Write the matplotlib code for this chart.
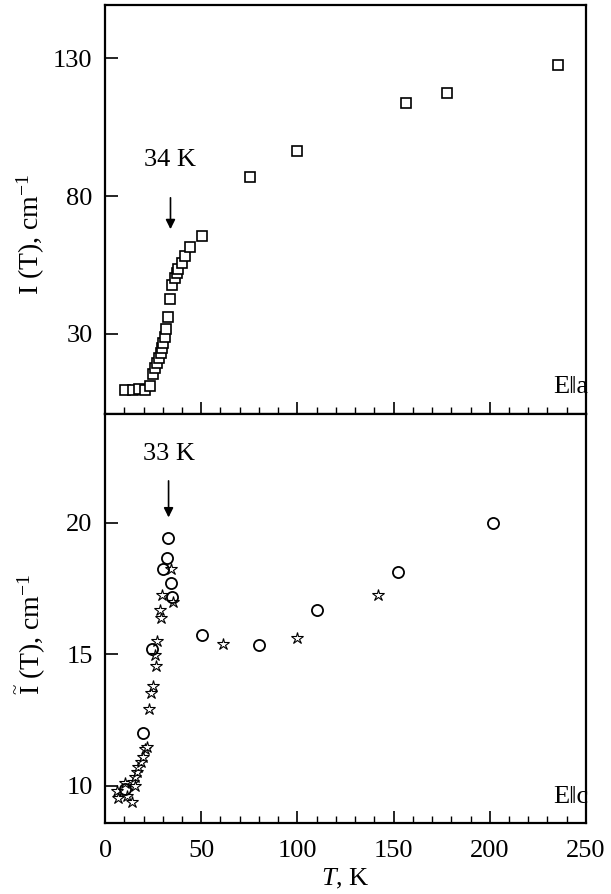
import matplotlib
matplotlib.use('Agg')
import matplotlib.pyplot as plt
from matplotlib.ticker import MultipleLocator

plt.rcParams['font.family'] = ['Liberation Serif', 'DejaVu Serif']
plt.rcParams['mathtext.fontset'] = 'custom'
plt.rcParams['mathtext.rm'] = 'Liberation Serif'
plt.rcParams['mathtext.it'] = 'Liberation Serif:italic'

# upper panel, E||a (squares)
T_a = [10.4, 14.7, 17.8, 20.8, 23.4, 24.8, 26.0, 27.2, 28.2, 29.0, 29.6, 30.3,
       31.3, 31.7, 32.9, 33.8, 34.7, 36.4, 37.3, 38.1, 39.9, 41.6, 44.2, 50.3,
       75.4, 99.8, 156.4, 177.8, 235.4]
I_a = [9.5, 9.7, 10.0, 9.7, 11.2, 15.5, 17.6, 19.4, 21.2, 23.0, 25.0, 26.8,
       29.0, 31.8, 36.3, 42.7, 47.8, 50.2, 52.0, 53.4, 55.6, 58.3, 61.6, 65.5,
       86.9, 96.3, 113.7, 117.4, 127.5]

# lower panel, E||c (circles and stars)
T_c1 = [10.4, 19.9, 24.6, 30.0, 32.1, 32.9, 34.1, 34.7, 50.3, 80.0, 110.2, 152.1, 201.7]
I_c1 = [9.87, 12.00, 15.20, 18.24, 18.68, 19.42, 17.73, 17.20, 15.74, 15.36, 16.68, 18.15, 20.0]

T_c2 = [6.1, 6.9, 10.4, 11.3, 13.9, 14.7, 15.6, 15.6, 16.5, 17.3, 18.6, 19.6,
        20.8, 21.7, 22.9, 23.9, 25.1, 26.4, 26.0, 27.2, 29.1, 28.6, 29.5, 35.2,
        34.3, 61.2, 99.6, 141.7]
I_c2 = [9.81, 9.53, 10.10, 9.62, 9.37, 10.16, 10.0, 10.35, 10.54, 10.73, 10.92, 11.11,
        11.40, 11.47, 12.92, 13.55, 13.81, 14.57, 14.98, 15.51, 16.38, 16.69, 17.26, 17.01,
        18.24, 15.39, 15.62, 17.26]

fs = 19
fig = plt.figure(figsize=(6.11, 8.94), dpi=100)
ax1 = fig.add_axes([0.172, 0.537, 0.787, 0.457])
ax2 = fig.add_axes([0.172, 0.0794, 0.787, 0.4576])

ax1.plot(T_a, I_a, 's', ms=7, mfc='white', mec='black', mew=1.2, ls='none')
ax2.plot(T_c2, I_c2, '*', ms=9, mfc='white', mec='black', mew=0.8, ls='none')
ax2.plot(T_c1, I_c1, 'o', ms=8, mfc='none', mec='black', mew=1.3, ls='none')

for ax in (ax1, ax2):
    ax.set_xlim(0, 250)
    ax.xaxis.set_major_locator(MultipleLocator(50))
    ax.xaxis.set_minor_locator(MultipleLocator(10))
    ax.tick_params(axis='x', which='major', direction='in', length=9, width=1.2, top=False)
    ax.tick_params(axis='x', which='minor', direction='in', length=5, width=1.0, top=False)
    ax.tick_params(axis='y', which='major', direction='in', length=9, width=1.2, right=False, pad=9)
    ax.tick_params(labelsize=fs)
    for s in ax.spines.values():
        s.set_linewidth(1.6)

ax1.set_ylim(1.0, 149.2)
ax1.set_yticks([30, 80, 130])
ax1.tick_params(axis='x', labelbottom=False)
ax1.set_ylabel('I (T), cm$^{-1}$', fontsize=20)
ax1.annotate('', xy=(34, 67), xytext=(34, 80.4),
             arrowprops=dict(arrowstyle='-|>', color='black', lw=1.2, mutation_scale=14))
ax1.text(34, 93, '34 K', fontsize=fs, ha='center', va='center')
ax1.text(242, 10.8, 'E\u2016a', fontsize=fs, ha='center', va='center')

ax2.set_ylim(8.59, 24.14)
ax2.set_yticks([10, 15, 20])
ax2.set_ylabel(r'$\widetilde{\mathrm{I}}$ (T), cm$^{-1}$', fontsize=20)
ax2.set_xlabel('$T$, K', fontsize=fs)
ax2.tick_params(axis='x', pad=12)
ax2.annotate('', xy=(33, 20.1), xytext=(33, 21.7),
             arrowprops=dict(arrowstyle='-|>', color='black', lw=1.2, mutation_scale=14))
ax2.text(33, 22.6, '33 K', fontsize=fs, ha='center', va='center')
ax2.text(242, 9.58, 'E\u2016c', fontsize=fs, ha='center', va='center')

ax1.yaxis.set_label_coords(-0.12, 0.44)
ax2.yaxis.set_label_coords(-0.12, 0.46)

fig.savefig('out.png', dpi=100)
